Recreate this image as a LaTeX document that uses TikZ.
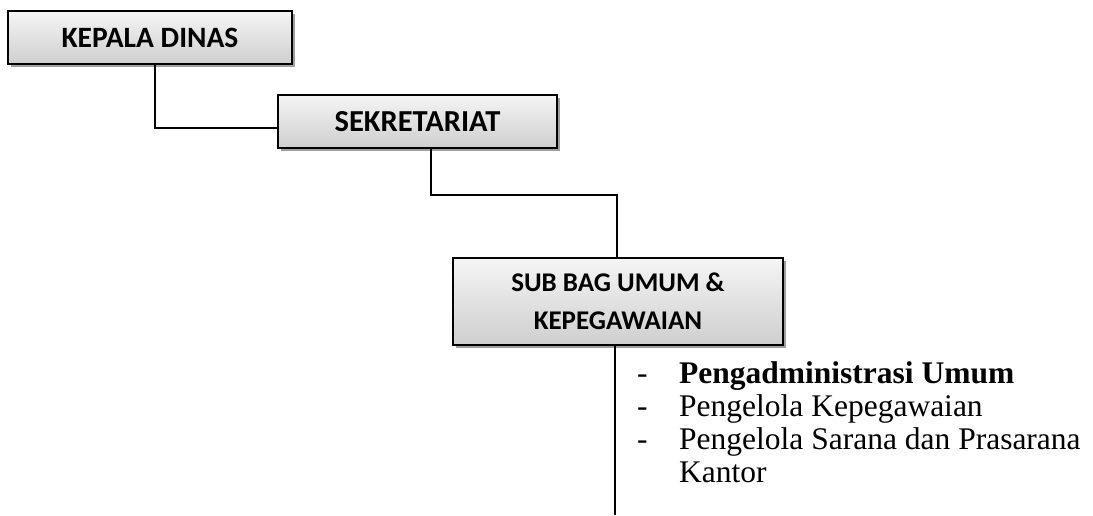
\documentclass[tikz,border=0pt]{standalone}
\usepackage{fontspec}
\setmainfont{Liberation Serif}
\newfontfamily\calibri{Carlito}
\usetikzlibrary{shadows}

\begin{document}
\begin{tikzpicture}[
		x = 1pt, y = -1pt, % pixel units, y downwards
		jabatan/.style = {draw, line width=1.5pt, top color=gray!8, bottom color=gray!38,
			drop shadow={shadow xshift=3pt, shadow yshift=-3pt, fill=gray!75, opacity=1},
			align=center, inner sep=0pt},
		garis/.style = {line width=1.5pt},
		tugas/.style = {anchor=base west, inner sep=0pt, font=\fontsize{31.5}{33}\selectfont}
		]
		\useasboundingbox (0,0) rectangle (1093,515);
		
		\node[jabatan, minimum width=284pt, minimum height=53pt,
			font=\calibri\bfseries\fontsize{29.5}{36}\selectfont] (kadis) at (150,37.5) {KEPALA DINAS};
		\node[jabatan, minimum width=279pt, minimum height=53pt,
			font=\calibri\bfseries\fontsize{30.5}{36}\selectfont] (sekre) at (417.5,121.5) {SEKRETARIAT};
		\node[jabatan, minimum width=330pt, minimum height=87pt,
			font=\calibri\bfseries\fontsize{27}{38}\selectfont] (subbag) at (618,301.5) {SUB BAG UMUM \&\\KEPEGAWAIAN};
		
		\coordinate (b1) at (155,128);
		\coordinate (b2) at (431,195);
		\coordinate (b3) at (617,195);
		\coordinate (ujung) at (615,515);
		
		\draw[garis] (kadis.south -| b1) -- (b1) -- (sekre.west |- b1);
		\draw[garis] (sekre.south -| b2) -- (b2) -- (b3) -- (subbag.north -| b3);
		\draw[garis] (subbag.south -| ujung) -- (ujung);
		
		% daftar tugas
		\node[tugas] (d1) at (637,383) {-};
		\node[tugas] (t1) at (679,383) {\bfseries Pengadministrasi Umum};
		\node[tugas] (d2) at (637,416) {-};
		\node[tugas] (t2) at (679,416) {Pengelola Kepegawaian};
		\node[tugas] (d3) at (637,449) {-};
		\node[tugas] (t3) at (679,449) {Pengelola Sarana dan Prasarana};
		\node[tugas] (t4) at (679,482) {Kantor};
	\end{tikzpicture}
\end{document}
